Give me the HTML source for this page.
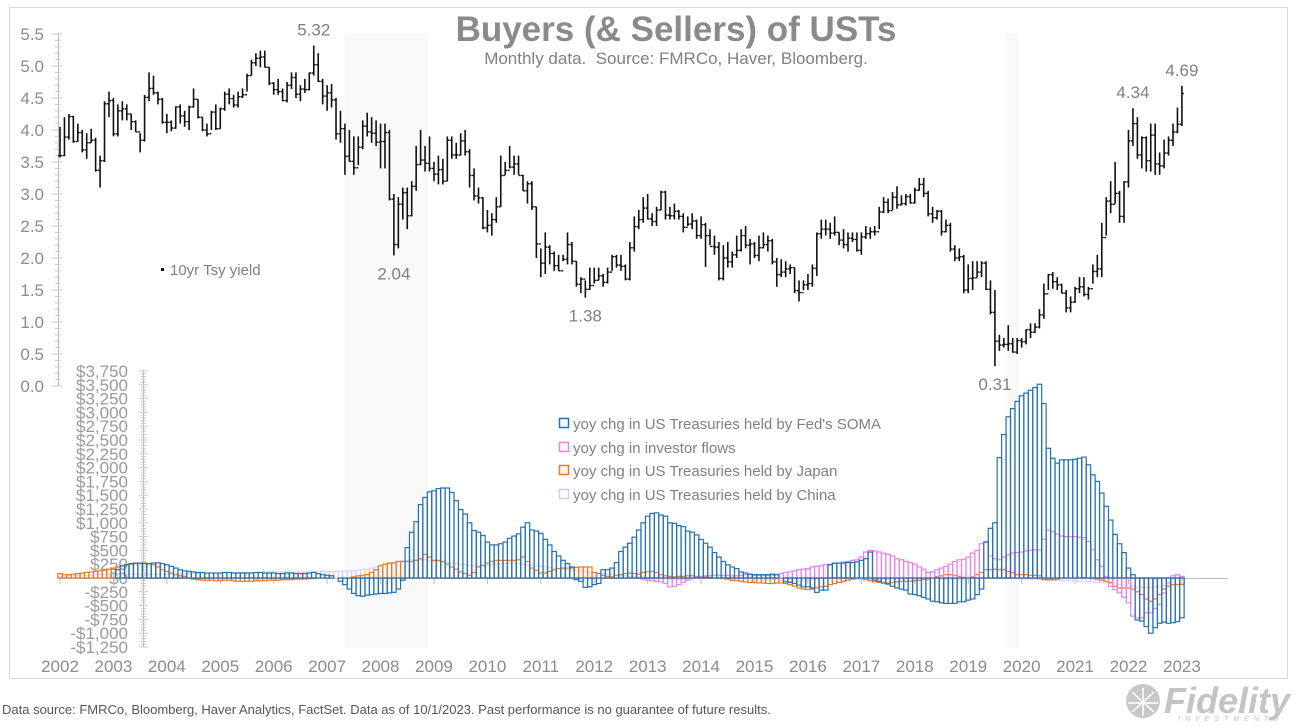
<!DOCTYPE html>
<html><head><meta charset="utf-8">
<style>
html,body{margin:0;padding:0;background:#fff;}
body{width:1314px;height:722px;overflow:hidden;font-family:"Liberation Sans",Arial,sans-serif;}
svg text{font-family:"Liberation Sans",Arial,sans-serif;}
</style></head>
<body>
<svg id="chart" width="1314" height="722" viewBox="0 0 1314 722" xmlns="http://www.w3.org/2000/svg">
<rect x="9.5" y="7.5" width="1278" height="671" fill="#fff" stroke="#d8d8d8"/>
<g id="bands"></g>
<text x="676" y="41" text-anchor="middle" font-size="35" font-weight="bold" fill="#8a8a8a">Buyers (&amp; Sellers) of USTs</text>
<text x="676" y="64" text-anchor="middle" font-size="17" fill="#808080" xml:space="preserve">Monthly data.  Source: FMRCo, Haver, Bloomberg.</text>
<g id="axes"></g>
<g id="bars"></g>
<g id="yield"></g>
<g id="labels"></g>
<g>
<rect x="161" y="268" width="3" height="3" fill="#111"/>
<text x="170" y="275" font-size="15" fill="#808080">10yr Tsy yield</text>
</g>
<g font-size="15" fill="#808080">
<rect x="559.5" y="418.5" width="9" height="9" fill="none" stroke="#2371b5" stroke-width="1.5"/>
<text x="573" y="429">yoy chg in US Treasuries held by Fed's SOMA</text>
<rect x="559.5" y="442.5" width="9" height="9" fill="none" stroke="#ee7fee" stroke-width="1.5"/>
<text x="573" y="453">yoy chg in investor flows</text>
<rect x="559.5" y="465.5" width="9" height="9" fill="none" stroke="#f07820" stroke-width="1.5"/>
<text x="573" y="476">yoy chg in US Treasuries held by Japan</text>
<rect x="559.5" y="489.5" width="9" height="9" fill="none" stroke="#d8c4ee" stroke-width="1.5"/>
<text x="573" y="500">yoy chg in US Treasuries held by China</text>
</g>
<text x="2" y="714" font-size="13" fill="#555">Data source: FMRCo, Bloomberg, Haver Analytics, FactSet. Data as of 10/1/2023. Past performance is no guarantee of future results.</text>
<g>
<circle cx="1143" cy="701" r="17" fill="#c8c8c8"/>
<path d="M1128 703 L1158 703 M1143 688 L1143 716 M1132 692 L1154 712 M1154 692 L1132 712" stroke="#fff" stroke-width="1.5"/>
<text x="1164" y="713" font-size="36" font-weight="bold" font-style="italic" fill="#c4c4c4">Fidelity</text>
<text x="1178" y="721" font-size="7" font-style="italic" fill="#c4c4c4" letter-spacing="5">INVESTMENTS</text>
</g>
</svg>
<script>
const NS="http://www.w3.org/2000/svg";
const yearLabels=["2002","2003","2004","2005","2006","2007","2008","2009","2010","2011","2012","2013","2014","2015","2016","2017","2018","2019","2020","2021","2022","2023"];
const yieldTicks=["0.0","0.5","1.0","1.5","2.0","2.5","3.0","3.5","4.0","4.5","5.0","5.5"];
const flowTicks=[-1250,-1000,-750,-500,-250,0,250,500,750,1000,1250,1500,1750,2000,2250,2500,2750,3000,3250,3500,3750];
// monthly 10yr yield, Sep 2002 .. Sep 2023
const yieldClose=[3.60,3.89,4.21,3.82,
3.96,3.69,3.80,3.84,3.37,3.52,4.41,4.46,3.94,4.30,4.33,4.25,
4.13,3.97,3.84,4.51,4.65,4.58,4.48,4.12,4.12,4.03,4.36,4.22,
4.13,4.36,4.48,4.20,4.00,3.94,4.28,4.02,4.33,4.56,4.49,4.39,
4.52,4.55,4.85,5.05,5.12,5.14,4.98,4.73,4.63,4.60,4.46,4.70,
4.82,4.56,4.64,4.63,4.89,5.02,4.76,4.53,4.58,4.47,3.94,4.02,
3.59,3.51,3.41,3.73,4.06,3.97,3.95,3.81,3.82,3.96,2.92,2.21,
2.84,3.02,2.66,3.12,3.46,3.53,3.48,3.40,3.31,3.38,3.20,3.84,
3.61,3.61,3.83,3.66,3.29,2.97,2.94,2.47,2.51,2.60,2.80,3.29,
3.37,3.42,3.47,3.29,3.05,3.16,2.80,2.22,1.92,2.17,2.07,1.88,
1.80,1.98,2.21,1.95,1.59,1.67,1.51,1.57,1.65,1.72,1.62,1.78,
2.02,1.89,1.87,1.67,2.16,2.49,2.60,2.78,2.61,2.57,2.75,3.03,
2.67,2.66,2.73,2.65,2.48,2.53,2.58,2.35,2.52,2.35,2.18,2.17,
1.68,2.00,1.94,2.05,2.12,2.35,2.20,2.22,2.04,2.16,2.21,2.27,
1.94,1.74,1.78,1.83,1.85,1.49,1.46,1.58,1.60,1.84,2.38,2.45,
2.45,2.39,2.40,2.28,2.21,2.31,2.29,2.12,2.33,2.38,2.41,2.41,
2.72,2.87,2.74,2.95,2.83,2.85,2.96,2.86,3.06,3.15,3.01,2.69,
2.63,2.73,2.41,2.51,2.14,2.00,2.02,1.50,1.68,1.69,1.78,1.92,
1.51,1.15,0.70,0.64,0.65,0.66,0.53,0.71,0.69,0.88,0.84,0.92,
1.11,1.44,1.74,1.63,1.58,1.45,1.22,1.31,1.52,1.55,1.43,1.52,
1.79,1.83,2.32,2.89,2.84,3.01,2.65,3.19,3.83,4.10,3.61,3.88,
3.52,3.92,3.47,3.44,3.64,3.84,3.97,4.09,4.57];
const yieldHigh=[4.05,4.20,4.25,4.22,
4.10,4.00,3.95,4.02,3.88,3.60,4.45,4.60,4.50,4.40,4.45,4.40,
4.25,4.15,3.95,4.55,4.90,4.85,4.60,4.50,4.25,4.15,4.37,4.40,
4.30,4.38,4.65,4.48,4.20,4.10,4.30,4.40,4.35,4.60,4.65,4.55,
4.60,4.65,4.88,5.10,5.20,5.24,5.24,4.98,4.75,4.80,4.65,4.75,
4.90,4.90,4.70,4.80,4.90,5.32,5.20,4.80,4.70,4.72,4.50,4.30,
4.10,4.00,3.90,3.90,4.15,4.27,4.20,4.15,4.10,4.10,4.00,3.00,
2.95,3.10,3.10,3.20,3.75,4.00,3.75,3.90,3.50,3.60,3.55,3.90,
3.90,3.80,3.95,4.00,3.70,3.40,3.10,2.95,2.75,2.70,2.95,3.60,
3.50,3.75,3.60,3.60,3.30,3.20,3.20,2.80,2.15,2.40,2.20,2.10,
2.05,2.05,2.40,2.25,1.95,1.70,1.65,1.85,1.85,1.85,1.75,1.85,
2.05,2.05,2.05,1.90,2.25,2.65,2.75,2.95,3.00,2.70,2.80,3.05,
3.05,2.80,2.85,2.75,2.70,2.65,2.70,2.60,2.65,2.55,2.45,2.35,
2.25,2.20,2.25,2.10,2.35,2.45,2.50,2.30,2.25,2.35,2.40,2.35,
2.30,2.00,1.98,1.95,1.90,1.85,1.65,1.65,1.75,1.90,2.40,2.60,
2.60,2.55,2.65,2.40,2.45,2.40,2.40,2.40,2.40,2.50,2.48,2.50,
2.80,2.95,2.93,3.03,3.12,2.98,3.00,3.00,3.10,3.25,3.25,3.05,
2.80,2.75,2.75,2.60,2.55,2.20,2.15,2.05,1.90,1.95,1.95,1.95,
1.95,1.65,1.50,0.80,0.75,0.95,0.75,0.75,0.75,0.88,0.98,0.98,
1.20,1.60,1.75,1.78,1.70,1.60,1.50,1.40,1.55,1.70,1.70,1.55,
1.90,2.05,2.55,2.95,3.20,3.50,3.05,3.20,4.00,4.34,4.20,3.90,
3.90,4.10,4.10,3.65,3.85,3.90,4.10,4.35,4.69];
const yieldLow=[3.57,3.59,3.85,3.80,
3.82,3.65,3.55,3.80,3.35,3.10,3.50,4.20,3.90,3.90,4.15,4.15,
4.00,3.97,3.65,3.82,4.45,4.55,4.40,4.10,3.95,3.98,4.02,4.10,
4.05,4.00,4.35,4.18,3.98,3.90,4.00,4.00,4.02,4.30,4.40,4.35,
4.35,4.50,4.60,4.85,5.00,4.98,4.98,4.70,4.55,4.55,4.45,4.43,
4.64,4.50,4.45,4.58,4.62,4.85,4.75,4.40,4.30,4.35,3.85,3.80,
3.30,3.50,3.30,3.45,3.70,3.90,3.80,3.75,3.40,3.40,2.90,2.04,
2.15,2.60,2.45,2.65,3.05,3.45,3.35,3.35,3.20,3.15,3.15,3.20,
3.55,3.55,3.60,3.60,3.10,2.90,2.85,2.45,2.40,2.35,2.55,2.80,
3.30,3.40,3.30,3.30,3.05,2.85,2.75,2.00,1.70,1.75,1.90,1.80,
1.80,1.95,1.90,1.90,1.55,1.45,1.38,1.50,1.60,1.65,1.55,1.60,
1.80,1.85,1.80,1.65,1.65,2.10,2.45,2.55,2.60,2.50,2.50,2.75,
2.60,2.60,2.60,2.60,2.40,2.50,2.45,2.30,2.30,1.86,2.20,2.05,
1.65,1.65,1.85,1.85,2.00,2.10,2.15,1.90,2.00,1.95,2.15,2.10,
1.90,1.55,1.70,1.70,1.75,1.45,1.32,1.50,1.50,1.55,1.72,2.30,
2.35,2.30,2.35,2.20,2.15,2.10,2.25,2.10,2.05,2.30,2.30,2.35,
2.45,2.70,2.70,2.75,2.77,2.82,2.82,2.85,2.85,3.05,2.95,2.65,
2.55,2.60,2.35,2.40,2.10,1.95,1.95,1.45,1.45,1.50,1.70,1.70,
1.50,1.12,0.31,0.55,0.60,0.55,0.52,0.50,0.60,0.65,0.75,0.83,
0.90,1.05,1.50,1.52,1.50,1.45,1.15,1.15,1.30,1.45,1.40,1.35,
1.60,1.70,1.70,2.35,2.70,2.85,2.55,2.55,3.10,3.75,3.55,3.40,
3.35,3.35,3.30,3.30,3.40,3.60,3.75,3.95,4.06];
// yoy changes, $bn, monthly from Sep 2002
const somaChg=[0,0,0,0,0,0,0,0,0,0,0,0,0,150,
220,240,260,270,270,265,260,270,275,
260,240,210,180,150,130,120,110,
100,100,90,90,90,90,100,100,90,90,90,90,90,100,100,90,90,90,80,80,90,90,80,80,80,90,100,80,60,50,
40,0,-60,
-120,-200,-280,-320,-330,-310,-300,
-290,-280,-280,-270,-260,-200,-40,
550,830,1020,1330,1460,1560,1580,
1620,1630,1630,
1550,1400,1240,1160,1000,860,830,770,650,600,
600,620,650,720,760,800,920,1000,870,850,
810,700,600,480,400,320,260,200,-30,-60,
-170,-160,-120,-100,150,150,180,280,480,560,
630,740,870,1000,1120,1170,1180,1140,1120,1000,
990,950,930,850,830,780,700,630,560,460,
380,300,240,200,170,110,90,70,60,60,
60,60,70,60,0,-70,-80,-100,-130,-160,
-160,-180,-260,-220,-220,240,270,270,270,280,
280,290,320,350,470,-40,-60,-90,-110,-150,
-180,-200,-220,-290,-300,-320,-350,-380,-420,-430,
-450,-460,-460,-460,-430,-430,-400,-380,-300,-200,
650,900,1000,2180,2600,2920,3070,3200,3300,3350,
3400,3450,3510,3160,2350,2170,2080,2140,2140,2140,
2150,2170,2190,2050,1870,1750,1540,1300,1050,790,
620,460,180,60,-760,-780,-880,-1000,-900,-820,
-800,-820,-810,-790,-720];
const investorChg=[0,0,0,0,0,0,0,0,0,0,0,0,0,0,0,0,0,0,0,0,0,0,0,0,0,0,0,0,0,0,
0,0,0,0,0,0,0,0,0,0,0,0,0,0,0,0,0,0,0,0,0,0,0,0,0,0,0,0,0,0,
0,0,0,0,0,0,0,0,0,0,0,0,0,0,0,0,0,0,0,0,0,0,0,0,0,0,0,0,0,0,
0,0,0,0,0,0,0,0,0,0,0,0,0,0,0,0,0,0,0,0,0,0,0,0,0,0,0,0,0,0,
0,0,0,0,0,0,0,0,
0,0,0,-20,-40,-50,-60,
-70,-100,-160,-150,-120,-80,-40,0,
20,30,40,40,50,50,50,50,40,40,50,60,60,50,50,50,50,
50,60,80,100,110,130,150,160,170,200,
210,220,240,250,260,270,290,300,320,330,
380,470,500,490,470,450,430,400,350,330,
300,280,250,200,160,100,110,150,180,210,
250,300,330,340,380,450,500,620,660,400,
350,330,380,420,450,460,470,490,500,510,
510,700,870,840,800,760,750,750,750,740,
730,660,510,330,210,30,-150,-210,-270,-350,
-450,-690,-720,-720,-630,-630,-550,-480,-270,-90,
40,60,30];
const japanChg=[80,60,60,70,80,90,100,110,120,130,140,160,180,200,220,240,250,260,270,270,260,
240,200,150,120,90,60,40,30,
0,-20,-30,-40,-40,-40,-50,-50,-40,-40,-50,-60,-60,-60,-60,-50,-50,-50,-40,-40,-40,-30,-30,-30,-20,-20,-20,-10,-10,0,0,0,
0,0,0,0,0,20,40,50,60,100,150,220,250,270,270,
300,300,300,300,320,350,430,380,320,320,300,250,200,160,110,80,50,100,200,230,270,300,
320,320,320,320,320,330,380,300,180,140,90,90,120,150,170,180,180,180,190,200,200,200,100,80,
50,30,20,50,60,80,90,80,70,
100,110,120,100,60,40,30,20,30,
30,40,40,30,20,20,10,0,0,-10,-20,
-40,-50,-60,-70,-80,-80,-90,-90,-100,-100,-90,-90,-100,
-120,-150,-180,-200,-210,-200,-180,-160,-150,-120,
-100,-80,-60,-40,-20,0,0,
-30,-50,-70,-80,-90,-90,
-80,-70,-60,-60,-60,-50,-40,-30,-20,
0,20,40,60,60,50,30,10,
0,20,60,100,
150,150,160,150,150,120,100,
60,60,60,50,50,40,
-30,-30,-30,-20,
0,0,0,0,0,10,0,-10,-20,-40,-60,-80,
-150,-180,-180,-180,-200,
-250,-300,-380,-420,-380,-300,-200,
-150,-120,-120,-120];
const chinaChg=[30,30,40,40,40,50,50,50,60,60,60,60,70,70,70,70,70,70,70,70,70,70,70,70,70,70,70,70,70,
80,80,80,90,90,90,90,90,90,100,100,100,100,100,100,100,100,110,110,110,110,110,110,110,110,110,110,120,120,120,120,120,
120,120,120,130,130,130,140,150,160,180,200,220,240,260,280,300,310,320,330,330,
330,330,320,310,300,290,280,270,260,250,240,230,220,220,220,230,240,250,260,270,270,270,260,250,240,230,220,210,200,190,
180,170,160,150,140,130,120,110,100,100,90,80,70,60,50,40,40,30,30,20,
20,10,10,0,0,-10,-20,-30,-30,-30,-20,-20,-10,-10,0,0,0,10,10,10,10,0,0,0,-10,-10,-10,-20,-20,-20,
-30,-40,-50,-60,-60,-60,-50,-40,-30,-20,-10,0,0,10,10,10,0,-10,-20,-30,-30,-30,-30,-30,-20,-20,-20,-10,-10,-10,0,0,0,-10,-10,-10,-10,-20,-20,-20,
-20,-20,-20,-10,-10,-10,-10,-10,0,0,0,10,10,0,-10,-20,-20,-20,-20,-30,-30,-40,-40,-40,-50,-50,-50,-60,-60,-60,-70,-70,-80,-80,-90,-100,-110,-120,-130,-140,-150,-160,-170,-170,-170,-160,-150,-140,-130,-120,-110,-100];
const recessions=[[64,82.6],[212.3,215.2]];
const annotations=[["5.32",57],["2.04",75],["1.38",118],["0.31",210],["4.34",241],["4.69",252]];

const MONTH_PX=4.452;
function xm(i){return 60+i*MONTH_PX;}
function yTop(v){return 386-v*64;}
function yBot(v){return 578-v*0.0552;}
function mk(tag,attrs,parent){const e=document.createElementNS(NS,tag);for(const k in attrs)e.setAttribute(k,attrs[k]);parent.appendChild(e);return e;}

const bands=document.getElementById('bands');
recessions.forEach(r=>{
  const e=mk('rect',{x:xm(r[0]),y:34,width:xm(r[1])-xm(r[0]),height:614,fill:'#f9f9f9'},bands);
  
  
});

const axes=document.getElementById('axes');
let a=mk('line',{x1:58.5,y1:yTop(5.5),x2:58.5,y2:yTop(0),stroke:'#bdbdbd'},axes);


for(let k=0;k<=55;k++){const y=yTop(k*0.1);const major=k%5===0;mk('line',{x1:major?52:55,y1:y,x2:major?62:60,y2:y,stroke:'#c8c8c8'},axes);}
yieldTicks.forEach((t,k)=>{const e=mk('text',{x:44,y:yTop(k*0.5)+6,'text-anchor':'end','font-size':17,fill:'#8c8c8c'},axes);e.textContent=t;
  
  });
a=mk('line',{x1:143.5,y1:yBot(3750),x2:143.5,y2:yBot(-1250),stroke:'#bdbdbd'},axes);


for(let v=-1250;v<=3750;v+=50){const y=yBot(v);const major=v%250===0;mk('line',{x1:major?139:141,y1:y,x2:major?148:146,y2:y,stroke:'#c8c8c8'},axes);}
flowTicks.forEach(v=>{const e=mk('text',{x:128,y:yBot(v)+6,'text-anchor':'end','font-size':17,fill:'#9a9a9a'},axes);
  e.textContent=(v<0?'-$':'$')+Math.abs(v).toLocaleString('en-US');
  
  });
a=mk('line',{x1:58,y1:578.5,x2:1228,y2:578.5,stroke:'#bdbdbd'},axes);


yearLabels.forEach((t,k)=>{const x=60+k*12*MONTH_PX;
  mk('line',{x1:x,y1:578,x2:x,y2:584,stroke:'#bdbdbd'},axes);
  const e=mk('text',{x:x,y:672,'text-anchor':'middle','font-size':17,fill:'#8c8c8c'},axes);e.textContent=t;
  
  });

const barsG=document.getElementById('bars');
function drawSeries(arr,color,name,sw){
  const g=mk('g',{},barsG);
  
  
  arr.forEach((v,i)=>{
    if(v===0)return;
    const y0=yBot(0),y1=yBot(v);
    const r=mk('rect',{x:xm(i)-MONTH_PX/2,y:Math.min(y0,y1),width:MONTH_PX,height:Math.abs(y1-y0),fill:'none',stroke:color,'stroke-width':sw},g);
    
    
  });
}
drawSeries(chinaChg,'#dccbef',"china",1);
drawSeries(japanChg,'#f07820','japan',1.2);
drawSeries(investorChg,'#ee7fee','investor',1.2);
drawSeries(somaChg,'#2371b5','soma',1.2);

const yg=document.getElementById('yield');
yieldClose.forEach((c,i)=>{
  const x=xm(i);
  const l=mk('line',{x1:x,y1:yTop(yieldHigh[i]),x2:x,y2:yTop(yieldLow[i]),stroke:'#111','stroke-width':1.6},yg);
  
  
  const o=i>0?yieldClose[i-1]:c;
  mk('line',{x1:x-2,y1:yTop(o),x2:x,y2:yTop(o),stroke:'#111','stroke-width':1.4},yg);
  mk('line',{x1:x,y1:yTop(c),x2:x+2,y2:yTop(c),stroke:'#111','stroke-width':1.4},yg);
});

const lg=document.getElementById('labels');
annotations.forEach(([t,i])=>{
  const v=parseFloat(t);
  const hiPt=Math.abs(yieldHigh[i]-v)<Math.abs(yieldLow[i]-v);
  const y=hiPt?yTop(yieldHigh[i])-10:yTop(yieldLow[i])+24;
  const e=mk('text',{x:xm(i),y:y,'text-anchor':'middle','font-size':17,fill:'#808080'},lg);
  e.textContent=t;
  
  
});
</script>
</body></html>
